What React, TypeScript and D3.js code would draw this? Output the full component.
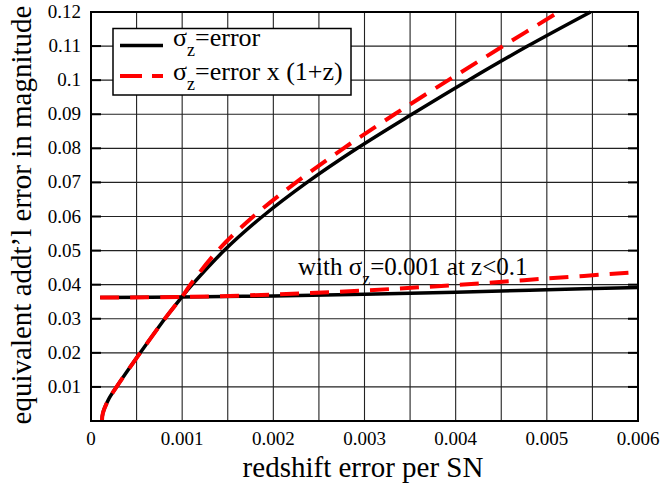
import React, { useRef, useEffect } from 'react'
import * as d3 from "d3";

// curves
const steepX = [0.00012, 0.00013, 0.00019, 0.00028, 0.00054, 0.00081, 0.001, 0.00111, 0.00146, 0.00188, 0.00237, 0.00292, 0.00352, 0.00414, 0.00479, 0.00548]
const steepY = [0, 0.0023, 0.0062, 0.01, 0.02, 0.03, 0.0365, 0.04, 0.05, 0.06, 0.07, 0.08, 0.09, 0.1, 0.11, 0.12]
const steepRedX = [0.00012, 0.00013, 0.00019, 0.00028, 0.00054, 0.00081, 0.001, 0.00109, 0.00139, 0.00178, 0.00225, 0.00277, 0.00333, 0.00392, 0.00452, 0.00513]
const steepRedY = [0, 0.0023, 0.0062, 0.01, 0.02, 0.03, 0.0365, 0.04, 0.05, 0.06, 0.07, 0.08, 0.09, 0.1, 0.11, 0.12]
const flatX = [0.0001, 0.001, 0.002, 0.003, 0.004, 0.005, 0.006]
const flatY = [0.0362, 0.0364, 0.0367, 0.0372, 0.0378, 0.0385, 0.0392]
const flatRedY = [0.0362, 0.0364, 0.0371, 0.0383, 0.0399, 0.0418, 0.0437]

const xTicks = [0, 0.001, 0.002, 0.003, 0.004, 0.005, 0.006]
const xTickLabels = ["0", "0.001", "0.002", "0.003", "0.004", "0.005", "0.006"]
const xGrid = [0.0005, 0.001, 0.0015, 0.002, 0.0025, 0.003, 0.0035, 0.004, 0.0045, 0.005, 0.0055]
const yTicks = [0.01, 0.02, 0.03, 0.04, 0.05, 0.06, 0.07, 0.08, 0.09, 0.1, 0.11, 0.12]
const yTickLabels = ["0.01", "0.02", "0.03", "0.04", "0.05", "0.06", "0.07", "0.08", "0.09", "0.1", "0.11", "0.12"]

const font = "'Liberation Serif', 'Times New Roman', serif"

export default function App() {
  const ref = useRef<SVGSVGElement | null>(null);

  useEffect(() => {
    if (!ref.current) return
    const svg = d3.select(ref.current)
    svg.selectAll("*").remove()

    const m = { left: 91, top: 12, right: 638, bottom: 421 }
    const x = d3.scaleLinear().domain([0, 0.006]).range([m.left, m.right])
    const y = d3.scaleLinear().domain([0, 0.12]).range([m.bottom, m.top])

    // grid
    const grid = svg.append("g").attr("stroke", "#222").attr("stroke-width", 1.1)
    xGrid.forEach(v => {
      grid.append("line").attr("x1", x(v)).attr("x2", x(v)).attr("y1", m.top).attr("y2", m.bottom)
    })
    yTicks.forEach(v => {
      grid.append("line").attr("x1", m.left).attr("x2", m.right).attr("y1", y(v)).attr("y2", y(v))
    })
    // short heavy ticks on left/right
    const ticks = svg.append("g").attr("stroke", "#000").attr("stroke-width", 2)
    yTicks.forEach(v => {
      ticks.append("line").attr("x1", m.left).attr("x2", m.left + 10).attr("y1", y(v)).attr("y2", y(v))
      ticks.append("line").attr("x1", m.right - 10).attr("x2", m.right).attr("y1", y(v)).attr("y2", y(v))
    })

    // curves
    const line = d3.line<[number, number]>().x(d => x(d[0])).y(d => y(d[1])).curve(d3.curveCatmullRom.alpha(0.5))
    const drawn = svg.append("g").attr("fill", "none").attr("stroke-linejoin", "round")
    drawn.append("path").attr("d", line(flatX.map((v, i) => [v, flatY[i]])))
      .attr("stroke", "#000").attr("stroke-width", 3.5)
    drawn.append("path").attr("d", line(steepX.map((v, i) => [v, steepY[i]])))
      .attr("stroke", "#000").attr("stroke-width", 3.5)
    drawn.append("path").attr("d", line(flatX.map((v, i) => [v, flatRedY[i]])))
      .attr("stroke", "#ff0000").attr("stroke-width", 4).attr("stroke-dasharray", "19 11")
    drawn.append("path").attr("d", line(steepRedX.map((v, i) => [v, steepRedY[i]])))
      .attr("stroke", "#ff0000").attr("stroke-width", 4).attr("stroke-dasharray", "19 11")

    // frame
    svg.append("rect").attr("x", m.left).attr("y", m.top)
      .attr("width", m.right - m.left).attr("height", m.bottom - m.top)
      .attr("fill", "none").attr("stroke", "#000").attr("stroke-width", 2)

    // tick labels
    xTicks.forEach((v, i) => {
      svg.append("text").attr("x", x(v)).attr("y", 445).attr("text-anchor", "middle")
        .attr("font-family", font).attr("font-size", 19).text(xTickLabels[i])
    })
    yTicks.forEach((v, i) => {
      svg.append("text").attr("x", 81).attr("y", y(v) + 6).attr("text-anchor", "end")
        .attr("font-family", font).attr("font-size", 19).text(yTickLabels[i])
    })

    // axis titles
    svg.append("text").attr("x", 363).attr("y", 477).attr("text-anchor", "middle")
      .attr("font-family", font).attr("font-size", 29).text("redshift error per SN")
    svg.append("text").attr("transform", "translate(31,215) rotate(-90)").attr("text-anchor", "middle")
      .attr("font-family", font).attr("font-size", 29).text("equivalent addt\u2019l error in magnitude")

    // legend
    const lg = svg.append("g")
    lg.append("rect").attr("x", 113).attr("y", 28.5).attr("width", 238).attr("height", 66.5)
      .attr("fill", "#fff").attr("stroke", "#000").attr("stroke-width", 1.5)
    lg.append("line").attr("x1", 120).attr("x2", 163).attr("y1", 45.5).attr("y2", 45.5)
      .attr("stroke", "#000").attr("stroke-width", 3.5)
    lg.append("line").attr("x1", 120).attr("x2", 163).attr("y1", 76).attr("y2", 76)
      .attr("stroke", "#ff0000").attr("stroke-width", 4).attr("stroke-dasharray", "22 10")
    const l1 = lg.append("text").attr("x", 173).attr("y", 46).attr("font-family", font).attr("font-size", 26)
    l1.append("tspan").text("\u03c3")
    l1.append("tspan").attr("dy", 10).attr("font-size", 18).text("z")
    l1.append("tspan").attr("dy", -10).text("=error")
    const l2 = lg.append("text").attr("x", 173).attr("y", 80).attr("font-family", font).attr("font-size", 26)
    l2.append("tspan").text("\u03c3")
    l2.append("tspan").attr("dy", 10).attr("font-size", 18).text("z")
    l2.append("tspan").attr("dy", -10).text("=error x (1+z)")

    // annotation
    const an = svg.append("text").attr("x", 298).attr("y", 275).attr("font-family", font).attr("font-size", 25)
    an.append("tspan").text("with \u03c3")
    an.append("tspan").attr("dy", 10).attr("font-size", 18).text("z")
    an.append("tspan").attr("dy", -10).text("=0.001 at z<0.1")
  }, [])

  return (
    <svg ref={ref} width={663} height={483}
      style={{ position: "absolute", left: 0, top: 0, background: "#fff" }} />
  )
}
